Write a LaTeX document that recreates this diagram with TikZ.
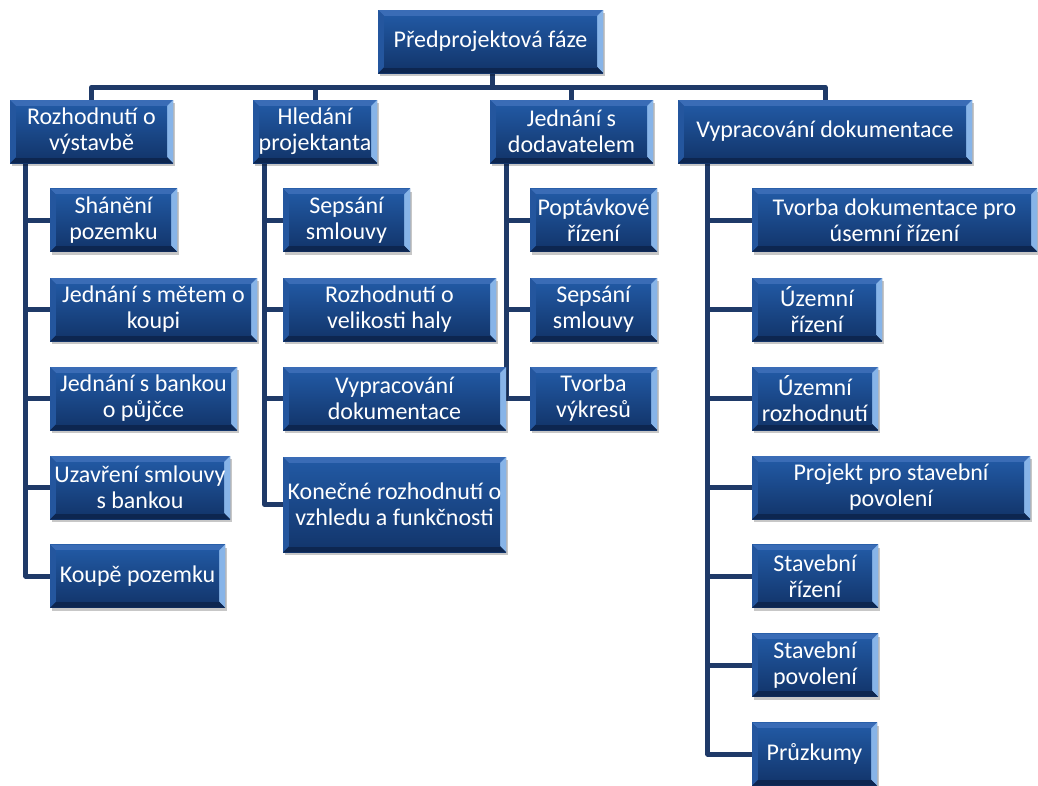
\documentclass[tikz,border=0pt]{standalone}
\usepackage{fontspec}
\setmainfont{Carlito}
\usetikzlibrary{shadows}
\definecolor{boxtop}{RGB}{33,88,162}
\definecolor{boxbot}{RGB}{19,55,110}
\definecolor{bevtop}{RGB}{58,108,182}
\definecolor{bevright}{RGB}{135,180,232}
\definecolor{bevbot}{RGB}{13,38,80}
\definecolor{bevleft}{RGB}{36,86,158}
\definecolor{linec}{RGB}{31,58,104}
\pgfdeclarelayer{bg}
\pgfsetlayers{bg,main}
\tikzset{
  box/.style={rectangle, inner xsep=0pt, inner ysep=0pt, text=white, align=center,
    font=\fontsize{24}{26}\selectfont, top color=boxtop, bottom color=boxbot,
    minimum height=63pt,
    drop shadow={fill=black, opacity=0.22, shadow xshift=1.5pt, shadow yshift=-3pt},
    path picture={
      \coordinate (pnw) at (path picture bounding box.north west);
      \coordinate (pne) at (path picture bounding box.north east);
      \coordinate (pse) at (path picture bounding box.south east);
      \coordinate (psw) at (path picture bounding box.south west);
      \fill[bevtop] (pnw) -- (pne) -- ([xshift=-6pt,yshift=-6pt]pne) -- ([xshift=6pt,yshift=-6pt]pnw) -- cycle;
      \fill[bevright] (pne) -- (pse) -- ([xshift=-6pt,yshift=6pt]pse) -- ([xshift=-6pt,yshift=-6pt]pne) -- cycle;
      \fill[bevbot] (pse) -- (psw) -- ([xshift=6pt,yshift=6pt]psw) -- ([xshift=-6pt,yshift=6pt]pse) -- cycle;
      \fill[bevleft] (psw) -- (pnw) -- ([xshift=6pt,yshift=-6pt]pnw) -- ([xshift=6pt,yshift=6pt]psw) -- cycle;
      \fill[top color=boxtop, bottom color=boxbot] ([xshift=6pt,yshift=-6pt]pnw) rectangle ([xshift=-6pt,yshift=6pt]pse);
    }},
  conn/.style={draw=linec, line width=5pt, line join=round}
}
\begin{document}
\begin{tikzpicture}[x=1pt, y=-1pt]
\useasboundingbox (0,0) rectangle (1038,785);

\node[box, minimum width=225pt] (top) at (490.5,41.5) {Předprojektová fáze};
\node[box, minimum width=163pt] (a) at (91.5,131.5) {Rozhodnutí o\\výstavbě};
\node[box, minimum width=124pt] (b) at (315,131.5) {Hledání\\projektanta};
\node[box, minimum width=163pt] (c) at (571.5,131.5) {Jednání s\\dodavatelem};
\node[box, minimum width=294pt] (d) at (825,131.5) {Vypracování dokumentace};

\node[box, minimum width=127pt] (a1) at (113.5,220) {Shánění\\pozemku};
\node[box, minimum width=207pt] (a2) at (153.5,309.5) {Jednání s mětem o\\koupi};
\node[box, minimum width=187pt] (a3) at (143.5,398.5) {Jednání s bankou\\o půjčce};
\node[box, minimum width=180pt] (a4) at (140,487.5) {Uzavření smlouvy\\s bankou};
\node[box, minimum width=175pt] (a5) at (137.5,576) {Koupě pozemku};

\node[box, minimum width=127pt] (b1) at (346.5,220) {Sepsání\\smlouvy};
\node[box, minimum width=213pt] (b2) at (389.5,309.5) {Rozhodnutí o\\velikosti haly};
\node[box, minimum width=223pt] (b3) at (394.5,398.5) {Vypracování\\dokumentace};
\node[box, minimum width=223pt, minimum height=95pt] (b4) at (394.5,504.5) {Konečné rozhodnutí o\\vzhledu a funkčnosti};

\node[box, minimum width=127pt] (c1) at (593.5,220) {Poptávkové\\řízení};
\node[box, minimum width=127pt] (c2) at (593.5,309.5) {Sepsání\\smlouvy};
\node[box, minimum width=127pt] (c3) at (593.5,398.5) {Tvorba\\výkresů};

\node[box, minimum width=285pt] (d1) at (894.5,220) {Tvorba dokumentace pro\\úsemní řízení};
\node[box, minimum width=130pt] (d2) at (817,309.5) {Územní\\řízení};
\node[box, minimum width=126pt] (d3) at (815,398.5) {Územní\\rozhodnutí};
\node[box, minimum width=278pt] (d4) at (891,487.5) {Projekt pro stavební\\povolení};
\node[box, minimum width=126pt] (d5) at (815,576) {Stavební\\řízení};
\node[box, minimum width=126pt] (d6) at (815,665) {Stavební\\povolení};
\node[box, minimum width=125pt] (d7) at (814.5,754) {Průzkumy};

\begin{pgfonlayer}{bg}
\fill[white] (0,0) rectangle (1038,785);
\foreach \n in {a,b,c,d} {
  \draw[conn] ([xshift=1.5pt]top.south) -- ++(0,14) -| (\n.north);
}
\foreach \n in {a1,a2,a3,a4,a5} {
  \draw[conn] ([xshift=16pt]a.south west) |- (\n.west);
}
\foreach \n in {b1,b2,b3,b4} {
  \draw[conn] ([xshift=12pt]b.south west) |- (\n.west);
}
\foreach \n in {c1,c2,c3} {
  \draw[conn] ([xshift=17pt]c.south west) |- (\n.west);
}
\foreach \n in {d1,d2,d3,d4,d5,d6,d7} {
  \draw[conn] ([xshift=30pt]d.south west) |- (\n.west);
}
\end{pgfonlayer}
\end{tikzpicture}
\end{document}
